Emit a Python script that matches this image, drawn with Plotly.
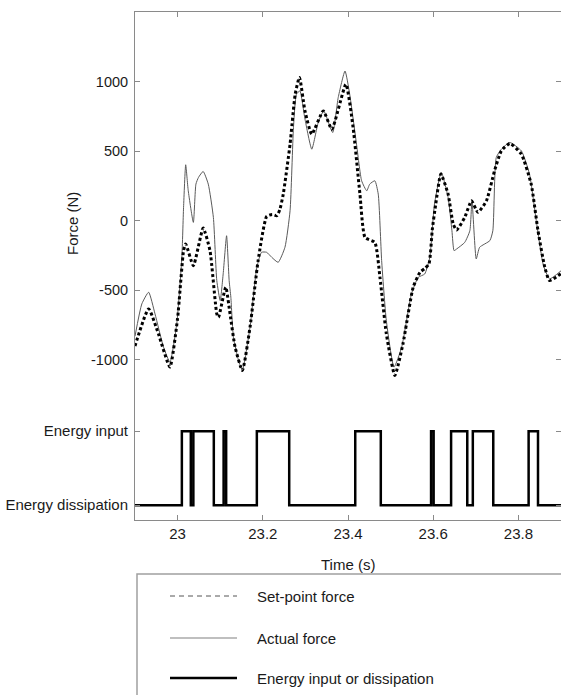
import plotly.graph_objects as go

# ---- data ----
set_t = [22.900, 22.932, 22.955, 22.982, 23.000, 23.014, 23.019, 23.037, 23.060, 23.076, 23.092, 23.096,
         23.113, 23.123, 23.135, 23.152, 23.170, 23.189, 23.209, 23.222, 23.233, 23.240, 23.248, 23.264,
         23.276, 23.286, 23.299, 23.315, 23.342, 23.362, 23.395, 23.412, 23.428, 23.440, 23.463, 23.475,
         23.490, 23.510, 23.529, 23.553, 23.569, 23.580, 23.590, 23.598, 23.606, 23.618, 23.635, 23.647,
         23.655, 23.674, 23.690, 23.705, 23.725, 23.744, 23.760, 23.780, 23.807, 23.830, 23.846, 23.862,
         23.873, 23.900]
set_f = [-900, -634, -813, -1052, -700, -215, -167, -323, -53, -215, -670, -694,
         -478, -668, -909, -1076, -765, -287, 30, 45, 36, 80, 191, 550,
         909, 1030, 789, 622, 789, 658, 980, 669, 191, -120, -156, -407,
         -813, -1112, -885, -478, -371, -344, -311, -60, 120, 335, 191, -24,
         -67, 24, 143, 60, 143, 359, 502, 555, 478, 263, -72, -335,
         -430, -380]

act_t = [22.900, 22.916, 22.932, 22.947, 22.967, 22.982, 22.998, 23.010, 23.014, 23.019, 23.025, 23.037,
         23.043, 23.049, 23.060, 23.072, 23.084, 23.092, 23.100, 23.107, 23.115, 23.121, 23.125, 23.131,
         23.143, 23.152, 23.170, 23.186, 23.197, 23.209, 23.221, 23.236, 23.252, 23.264, 23.272, 23.279,
         23.287, 23.299, 23.315, 23.330, 23.343, 23.364, 23.377, 23.393, 23.404, 23.420, 23.432, 23.444,
         23.451, 23.463, 23.471, 23.479, 23.490, 23.508, 23.526, 23.549, 23.565, 23.580, 23.592, 23.603,
         23.619, 23.635, 23.644, 23.649, 23.655, 23.674, 23.686, 23.691, 23.701, 23.709, 23.733, 23.740,
         23.748, 23.760, 23.780, 23.807, 23.826, 23.842, 23.858, 23.873, 23.900]
act_f = [-830, -598, -514, -670, -909, -1016, -741, -263, 96, 402, 215, -12,
         263, 311, 354, 263, 24, -430, -574, -382, -108, -430, -550, -837,
         -1004, -1076, -765, -335, -227, -227, -263, -299, -191, 72, 669, 909,
         933, 730, 514, 705, 789, 634, 885, 1076, 909, 550, 287, 215,
         263, 287, 191, -287, -717, -1052, -909, -526, -407, -383, -263, 120,
         347, 167, -72, -215, -203, -156, -72, 143, -275, -191, -143, -72,
         454, 514, 562, 502, 335, 0, -311, -418, -360]

en_t = [22.900, 23.010, 23.031, 23.037, 23.085, 23.108, 23.114, 23.186, 23.262, 23.417, 23.477,
        23.595, 23.601, 23.642, 23.680, 23.693, 23.741, 23.824, 23.846, 23.900]
en_s = [0, 1, 0, 1, 0, 1, 0, 1, 0, 1, 0, 1, 0, 1, 0, 1, 0, 1, 0, 0]

x_ticks = [23, 23.2, 23.4, 23.6, 23.8]
x_tick_labels = ["23", "23.2", "23.4", "23.6", "23.8"]
y_ticks = [-1000, -500, 0, 500, 1000]
y_tick_labels = ["-1000", "-500", "0", "500", "1000"]
e_ticks = [0, 1]
e_tick_labels = ["Energy dissipation", "Energy input"]
legend_labels = ["Set-point force", "Actual force", "Energy input or dissipation"]

FONT = "Liberation Sans, Arial, sans-serif"
AX = "#8a8a8a"
TXT = "#1a1a1a"

fig = go.Figure()
fig.add_trace(go.Scatter(x=act_t, y=act_f, mode="lines", xaxis="x", yaxis="y",
                         line=dict(color="#5a5a5a", width=1, shape="spline", smoothing=0.5),
                         showlegend=False, name=legend_labels[1]))
fig.add_trace(go.Scatter(x=set_t, y=set_f, mode="lines", xaxis="x", yaxis="y",
                         line=dict(color="#000000", width=3, dash="3px,2.5px", shape="spline", smoothing=0.5),
                         showlegend=False, name=legend_labels[0]))
fig.add_trace(go.Scatter(x=en_t, y=en_s, mode="lines", xaxis="x", yaxis="y2",
                         line=dict(color="#000000", width=2.5, shape="hv"),
                         showlegend=False, name=legend_labels[2]))

W, H = 561, 695
L, R, T, B = 135, 0, 12, 175
plot_h = H - T - B
bottom_frac = 118.4 / plot_h

common_x = dict(range=[22.9, 23.9], tickvals=x_ticks, ticktext=x_tick_labels,
                ticks="inside", ticklen=5, tickcolor=AX, showgrid=False, zeroline=False,
                showline=True, linecolor=AX, linewidth=1)

fig.update_layout(
    width=W, height=H, margin=dict(l=L, r=R, t=T, b=B),
    paper_bgcolor="white", plot_bgcolor="white",
    font=dict(family=FONT, size=15, color=TXT),
    xaxis=dict(anchor="y2", tickfont=dict(size=15, color=TXT), **common_x),
    xaxis2=dict(overlaying="x", matches="x", anchor="y", side="top", showticklabels=False, **common_x),
    yaxis=dict(domain=[bottom_frac, 1], range=[-1300, 1500], tickvals=y_ticks, ticktext=y_tick_labels,
               ticks="inside", ticklen=5, tickcolor=AX, showgrid=False, zeroline=False,
               showline=True, linecolor=AX, linewidth=1, tickfont=dict(size=14.5, color=TXT),
               ticklabelstandoff=3),
    yaxis3=dict(overlaying="y", matches="y", side="right", anchor="x", tickvals=y_ticks,
                showticklabels=False, ticks="inside", ticklen=5, tickcolor=AX,
                showgrid=False, zeroline=False, showline=False),
    yaxis2=dict(domain=[0, bottom_frac], range=[-0.2, 1.4], tickvals=e_ticks, ticktext=e_tick_labels,
                ticks="inside", ticklen=5, tickcolor=AX, showgrid=False, zeroline=False,
                showline=True, linecolor=AX, linewidth=1, tickfont=dict(size=15, color=TXT),
                ticklabelstandoff=3),
    yaxis4=dict(overlaying="y2", matches="y2", side="right", anchor="x", tickvals=e_ticks,
                showticklabels=False, ticks="inside", ticklen=5, tickcolor=AX,
                showgrid=False, zeroline=False, showline=False),
)
# invisible traces to activate mirrored axes
fig.add_trace(go.Scatter(x=[None], y=[None], xaxis="x2", yaxis="y", showlegend=False, hoverinfo="skip"))
fig.add_trace(go.Scatter(x=[None], y=[None], xaxis="x", yaxis="y3", showlegend=False, hoverinfo="skip"))
fig.add_trace(go.Scatter(x=[None], y=[None], xaxis="x", yaxis="y4", showlegend=False, hoverinfo="skip"))

plot_w = W - L - R
def px_x(p):
    return (p - L) / plot_w
def px_y(p):
    return (H - B - p) / plot_h

# axis titles
fig.add_annotation(text="Force (N)", xref="paper", yref="paper", x=px_x(72), y=px_y(224),
                   textangle=-90, showarrow=False, font=dict(size=15, color=TXT),
                   xanchor="center", yanchor="middle")
fig.add_annotation(text="Time (s)", xref="paper", yref="paper", x=px_x(348), y=px_y(564),
                   showarrow=False, font=dict(size=15, color=TXT), xanchor="center", yanchor="middle")

# legend box edges (left and top edges only, as visible in the reference)
box = dict(color="#a0a0a0", width=1.5)
fig.add_shape(type="path", xref="paper", yref="paper",
              path=f"M {px_x(137)},{px_y(700)} L {px_x(137)},{px_y(574)} L {px_x(566)},{px_y(574)}",
              line=box, fillcolor="rgba(0,0,0,0)")
leg_y = [596, 638, 678]
leg_styles = [dict(color="#555555", width=1, dash="5px,4px"),
              dict(color="#aaaaaa", width=1.5),
              dict(color="#000000", width=2.5)]
for lbl, yy, st in zip(legend_labels, leg_y, leg_styles):
    fig.add_shape(type="line", xref="paper", yref="paper", x0=px_x(170), x1=px_x(237),
                  y0=px_y(yy), y1=px_y(yy), line=st)
    fig.add_annotation(text=lbl, xref="paper", yref="paper", x=px_x(255), y=px_y(yy),
                       showarrow=False, xanchor="left", yanchor="middle",
                       font=dict(size=15, color=TXT))

fig.write_html("out.html", config={"displayModeBar": False, "staticPlot": True},
               post_script="document.body.style.margin='0';document.body.style.overflow='hidden';")
